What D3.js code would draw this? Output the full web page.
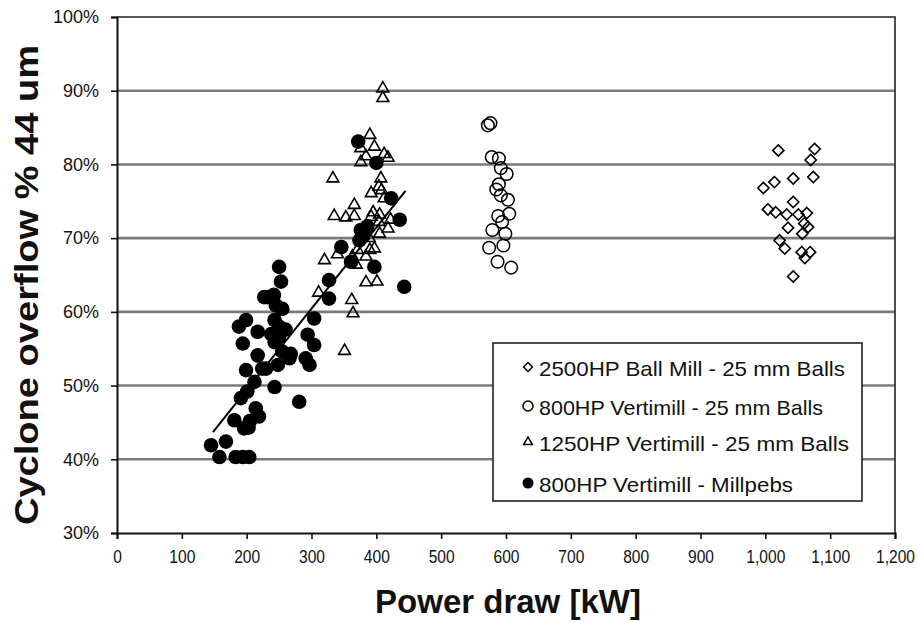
<!DOCTYPE html>
<html lang="en">
  <head>
    <meta charset="UTF-8" />
    <title>Cyclone overflow vs power draw</title>
    <script src="https://cdn.jsdelivr.net/npm/d3@7"></script>
    <style>
      body { margin: 0; background: #fff; }
      text { font-family: "Liberation Sans", Arial, sans-serif; fill: #111; }
    </style>
  </head>
  <body>
    <svg id="chart" width="924" height="622"></svg>
    <script>
      // values: [power kW, fraction passing]
      let ballMill2500 = [
        [1020, 0.819], [1076, 0.821], [1070, 0.806], [1074, 0.783], [1043, 0.781],
        [1014, 0.776], [997, 0.768], [1004, 0.739], [1016, 0.735], [1043, 0.749],
        [1033, 0.732], [1051, 0.732], [1064, 0.734], [1060, 0.720], [1035, 0.714],
        [1066, 0.715], [1057, 0.706], [1022, 0.697], [1030, 0.686], [1056, 0.681],
        [1069, 0.681], [1061, 0.673], [1043, 0.648]
      ];
      let verti800Balls = [
        [572, 0.853], [576, 0.856], [578, 0.810], [589, 0.808], [592, 0.795],
        [601, 0.787], [589, 0.773], [585, 0.766], [592, 0.758], [603, 0.752],
        [605, 0.733], [588, 0.730], [594, 0.722], [579, 0.711], [599, 0.706],
        [596, 0.690], [574, 0.687], [587, 0.668], [608, 0.660]
      ];
      let verti1250Balls = [
        [410, 0.903], [410, 0.890], [390, 0.840], [376, 0.822], [397, 0.824],
        [412, 0.814], [418, 0.809], [376, 0.803], [384, 0.811], [333, 0.781],
        [407, 0.781], [404, 0.770], [392, 0.761], [408, 0.765], [412, 0.754],
        [366, 0.745], [335, 0.730], [353, 0.728], [366, 0.730], [392, 0.729],
        [405, 0.732], [418, 0.713], [405, 0.706], [389, 0.700], [397, 0.686],
        [371, 0.684], [384, 0.675], [363, 0.675], [369, 0.664], [320, 0.670],
        [384, 0.640], [401, 0.641], [362, 0.616], [364, 0.598], [351, 0.547],
        [311, 0.626], [386, 0.714], [422, 0.725], [404, 0.722], [395, 0.735],
        [390, 0.684], [340, 0.678]
      ];
      let verti800Millpebs = [
        [372, 0.831], [400, 0.802], [423, 0.754], [436, 0.725], [443, 0.634],
        [376, 0.711], [386, 0.716], [380, 0.703], [374, 0.697], [346, 0.688],
        [361, 0.668], [397, 0.661], [327, 0.643], [327, 0.618], [304, 0.591],
        [294, 0.569], [304, 0.555], [291, 0.537], [297, 0.528], [281, 0.478],
        [250, 0.661], [253, 0.641], [227, 0.620], [242, 0.623], [245, 0.609],
        [255, 0.604], [199, 0.589], [188, 0.580], [217, 0.573], [243, 0.589],
        [250, 0.580], [250, 0.566], [194, 0.557], [243, 0.559], [255, 0.546],
        [217, 0.541], [266, 0.537], [248, 0.528], [224, 0.523], [199, 0.521],
        [212, 0.505], [243, 0.498], [201, 0.492], [191, 0.483], [214, 0.469],
        [219, 0.458], [181, 0.453], [196, 0.442], [205, 0.452], [203, 0.443],
        [168, 0.424], [145, 0.419], [158, 0.403], [183, 0.403], [194, 0.403],
        [204, 0.403], [238, 0.570], [260, 0.576], [268, 0.543], [232, 0.620],
        [230, 0.523]
      ];
      let trendLine = [[148, 0.437], [445, 0.764]];

      let xTicks = [0, 100, 200, 300, 400, 500, 600, 700, 800, 900, 1000, 1100, 1200];
      let yTicks = [0.3, 0.4, 0.5, 0.6, 0.7, 0.8, 0.9, 1.0];
      let legendLabels = [
        "2500HP Ball Mill - 25 mm Balls",
        "800HP Vertimill - 25 mm Balls",
        "1250HP Vertimill - 25 mm Balls",
        "800HP Vertimill - Millpebs"
      ];

      let svg = d3.select("#chart");
      let plotLeft = 117, plotRight = 895, plotTop = 17, plotBottom = 533;

      let x = d3.scaleLinear().domain([0, 1200]).range([plotLeft, plotRight]);
      let y = d3.scaleLinear().domain([0.3, 1.0]).range([plotBottom, plotTop]);

      // gridlines
      svg.append("g")
        .selectAll("line")
        .data(yTicks.filter((d) => d > 0.31 && d < 0.99))
        .enter()
        .append("line")
        .attr("x1", plotLeft).attr("x2", plotRight)
        .attr("y1", (d) => y(d)).attr("y2", (d) => y(d))
        .attr("stroke", "#7a7a7a")
        .attr("stroke-width", 2.6);

      // plot frame (top and right)
      svg.append("path")
        .attr("d", `M${plotLeft},${plotTop}H${plotRight}V${plotBottom}`)
        .attr("fill", "none")
        .attr("stroke", "#222")
        .attr("stroke-width", 1.6);

      let xAxis = svg.append("g")
        .attr("transform", `translate(0,${plotBottom})`)
        .call(d3.axisBottom(x).tickValues(xTicks).tickSize(6).tickPadding(11).tickFormat(d3.format(",")));
      let yAxis = svg.append("g")
        .attr("transform", `translate(${plotLeft},0)`)
        .call(d3.axisLeft(y).tickValues(yTicks).tickSize(6).tickPadding(12).tickFormat(d3.format(".0%")));

      for (const ax of [xAxis, yAxis]) {
        ax.select(".domain").attr("stroke", "#111").attr("stroke-width", 2);
        ax.selectAll(".tick line").attr("stroke", "#111").attr("stroke-width", 1.6);
        ax.selectAll(".tick text")
          .attr("fill", "#2a2a2a")
          .style("font-family", "'Liberation Sans', Arial, sans-serif")
          .style("font-size", "18px");
      }
      // the reference's x tick labels are narrow and tall
      xAxis.selectAll(".tick text")
        .style("font-size", "19px")
        .attr("transform", "scale(0.82,1)");

      // trend line
      svg.append("line")
        .attr("x1", x(trendLine[0][0])).attr("y1", y(trendLine[0][1]))
        .attr("x2", x(trendLine[1][0])).attr("y2", y(trendLine[1][1]))
        .attr("stroke", "#000")
        .attr("stroke-width", 2);

      let diamond = d3.symbol().type(d3.symbolDiamond2).size(80);
      let triangle = d3.symbol().type(d3.symbolTriangle2).size(100);

      function drawSymbols(data, sym, fill) {
        svg.append("g")
          .selectAll("path")
          .data(data)
          .enter()
          .append("path")
          .attr("d", sym)
          .attr("transform", (d) => `translate(${x(d[0])},${y(d[1])})`)
          .attr("fill", fill)
          .attr("stroke", "#000")
          .attr("stroke-width", 1.6);
      }
      drawSymbols(ballMill2500, diamond, "none");
      drawSymbols(verti1250Balls, triangle, "none");

      svg.append("g")
        .selectAll("circle")
        .data(verti800Balls)
        .enter()
        .append("circle")
        .attr("cx", (d) => x(d[0]))
        .attr("cy", (d) => y(d[1]))
        .attr("r", 6.3)
        .attr("fill", "none")
        .attr("stroke", "#000")
        .attr("stroke-width", 1.5);

      svg.append("g")
        .selectAll("circle")
        .data(verti800Millpebs)
        .enter()
        .append("circle")
        .attr("cx", (d) => x(d[0]))
        .attr("cy", (d) => y(d[1]))
        .attr("r", 7.3)
        .attr("fill", "#000");

      // legend
      let legend = svg.append("g").attr("transform", "translate(493,343)");
      legend.append("rect")
        .attr("width", 369).attr("height", 158)
        .attr("fill", "#fff")
        .attr("stroke", "#222")
        .attr("stroke-width", 1.6);

      let rowY = [25, 64, 100, 141];
      let items = legend.selectAll("g.item")
        .data(legendLabels)
        .enter()
        .append("g")
        .attr("class", "item")
        .attr("transform", (d, i) => `translate(0,${rowY[i]})`);

      items.append("text")
        .attr("x", 46)
        .attr("y", 8)
        .style("font-size", "21px")
        .attr("textLength", (d, i) => [306, 284, 310, 254][i])
        .attr("lengthAdjust", "spacingAndGlyphs")
        .text((d) => d);

      let mk = legend.append("g").attr("transform", "translate(35,0)");
      mk.append("path").attr("d", d3.symbol().type(d3.symbolDiamond2).size(50))
        .attr("transform", `translate(0,${rowY[0] - 1})`)
        .attr("fill", "none").attr("stroke", "#000").attr("stroke-width", 1.5);
      mk.append("circle").attr("cy", rowY[1] - 1).attr("r", 5)
        .attr("fill", "none").attr("stroke", "#000").attr("stroke-width", 1.5);
      mk.append("path").attr("d", d3.symbol().type(d3.symbolTriangle2).size(55))
        .attr("transform", `translate(0,${rowY[2] - 1})`)
        .attr("fill", "none").attr("stroke", "#000").attr("stroke-width", 1.5);
      mk.append("circle").attr("cy", rowY[3] - 1).attr("r", 5.5).attr("fill", "#000");

      // axis titles
      svg.append("text")
        .attr("x", (plotLeft + plotRight) / 2 + 2)
        .attr("y", 613)
        .attr("text-anchor", "middle")
        .style("font-size", "33px")
        .style("font-weight", "bold")
        .attr("fill", "#000")
        .text("Power draw [kW]");

      svg.append("text")
        .attr("transform", `translate(38,285) rotate(-90) scale(1.12,1)`)
        .attr("text-anchor", "middle")
        .style("font-size", "34px")
        .style("font-weight", "bold")
        .attr("fill", "#000")
        .text("Cyclone overflow % 44 um");
    </script>
  </body>
</html>
